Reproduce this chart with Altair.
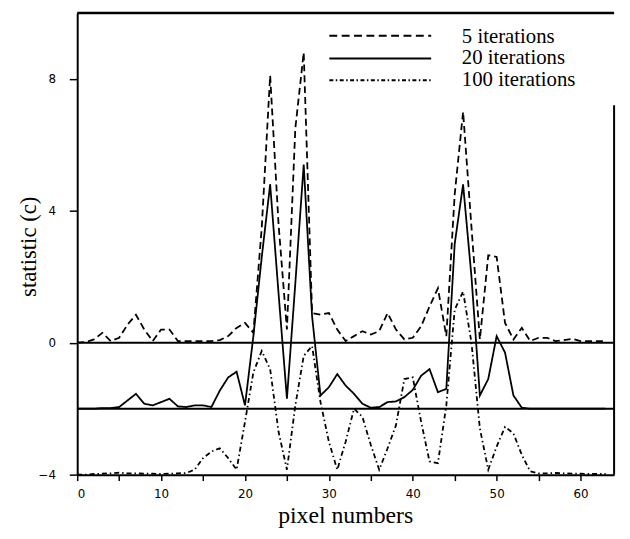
import altair as alt
import pandas as pd

# ---- data ----
pixels = list(range(64))

iter5 = [0.0, 0.02, 0.1, 0.3, 0.05, 0.15, 0.55, 0.85, 0.4, 0.05,
         0.4, 0.4, 0.05, 0.05, 0.05, 0.05, 0.05, 0.08, 0.2, 0.45,
         0.6, 0.3, 3.5, 8.1, 3.6, 0.4, 6.5, 8.8, 0.9, 0.85,
         0.9, 0.4, 0.05, 0.2, 0.35, 0.25, 0.35, 0.9, 0.4, 0.1,
         0.15, 0.5, 1.1, 1.65, 0.2, 4.5, 7.0, 3.5, 0.1, 2.65,
         2.6, 0.6, 0.1, 0.45, 0.05, 0.15, 0.15, 0.05, 0.08, 0.12,
         0.05, 0.05, 0.05, 0.05]

iter20 = [-2.0, -2.0, -2.0, -1.98, -1.98, -1.95, -1.75, -1.55, -1.85, -1.9,
          -1.8, -1.7, -1.93, -1.95, -1.9, -1.9, -1.95, -1.45, -1.05, -0.88,
          -1.9, 0.2, 2.6, 4.8, 1.5, -1.7, 1.8, 5.4, 0.8, -1.6,
          -1.35, -0.95, -1.3, -1.55, -1.85, -1.97, -1.95, -1.8, -1.78, -1.65,
          -1.43, -1.0, -0.8, -1.5, -1.4, 3.0, 4.8, 2.0, -1.6, -1.1,
          0.2, -0.3, -1.6, -1.97, -2.0, -2.0, -2.0, -2.0, -2.0, -2.0,
          -2.0, -2.0, -2.0, -2.0]

iter100 = [-4.0, -4.0, -3.98, -3.97, -3.96, -3.94, -3.96, -3.96, -3.97, -3.97,
           -3.98, -3.97, -3.96, -3.95, -3.85, -3.5, -3.3, -3.2, -3.5, -3.85,
           -2.4, -0.9, -0.25, -0.8, -2.7, -3.85, -1.9, -0.4, -0.1, -1.8,
           -3.0, -3.85, -3.0, -2.0, -2.25, -3.1, -3.85, -3.2, -2.5, -1.1,
           -1.05, -2.4, -3.6, -3.65, -1.9, 1.0, 1.55, 0.0, -2.6, -3.85,
           -3.15, -2.55, -2.75, -3.4, -3.9, -3.96, -3.96, -3.95, -3.96, -3.97,
           -3.97, -3.98, -3.98, -3.98]

series_names = ["5 iterations", "20 iterations", "100 iterations"]
baselines = [0, -2]
x_ticks = list(range(0, 61, 5))
y_ticks = [-4, 0, 4, 8]
x_domain = [0, 64]
y_domain = [-4, 10]
frame_right = [{"x": 64, "y": -4, "y2": 7.2}]

# ---- styling ----
dashes = [[7, 4], [1, 0], [5, 3, 1.5, 3]]
legend_dashes = [[8, 4.5], [1, 0], [4, 2.5, 1.5, 2.5]]
legend_rows = [23, 46, 68]
legend_text_rows = [30, 52, 74]
serif = "Liberation Serif"
sans = "DejaVu Sans"

df = pd.DataFrame({
    "pixel": pixels * 3,
    "value": iter5 + iter20 + iter100,
    "series": [series_names[0]] * 64 + [series_names[1]] * 64 + [series_names[2]] * 64,
})

x_scale = alt.Scale(domain=x_domain, nice=False, zero=False)
y_scale = alt.Scale(domain=y_domain, nice=False, zero=False)

x_axis = alt.Axis(
    values=x_ticks,
    labelExpr="datum.value % 10 == 0 ? datum.label : ''",
    grid=False, domainColor="black", domainWidth=2,
    ticks=True, tickColor="black", tickWidth=1.5, tickSize=6,
    labelFont=sans, labelFontSize=12, labelColor="black", labelPadding=8,
    title="pixel numbers", titleFont=serif, titleFontSize=24,
    titleFontWeight="normal", titleColor="black",
    titleX=271, titleY=48, titleAlign="center", titleBaseline="alphabetic",
)
y_axis = alt.Axis(
    values=y_ticks, grid=False, domainColor="black", domainWidth=2,
    ticks=True, tickColor="black", tickWidth=1.5, tickSize=8,
    labelFont=sans, labelFontSize=12, labelColor="black", labelPadding=14,
    title="statistic (c)", titleFont=serif, titleFontSize=23,
    titleFontWeight="normal", titleColor="black",
    titleX=-49, titleY=236, titleAngle=-90, titleAlign="center",
    titleBaseline="middle",
)

lines = alt.Chart(df).mark_line(color="black", strokeWidth=1.8).encode(
    x=alt.X("pixel:Q", scale=x_scale, axis=x_axis),
    y=alt.Y("value:Q", scale=y_scale, axis=y_axis),
    strokeDash=alt.StrokeDash("series:N",
                              scale=alt.Scale(domain=series_names, range=dashes),
                              legend=None),
)

base_rules = alt.Chart(pd.DataFrame({"y": baselines})).mark_rule(
    color="black", strokeWidth=2
).encode(y=alt.Y("y:Q", scale=y_scale))

top_rule = alt.Chart(pd.DataFrame({"y": [y_domain[1]]})).mark_rule(
    color="black", strokeWidth=2.5
).encode(y=alt.Y("y:Q", scale=y_scale))

right_rule = alt.Chart(pd.DataFrame(frame_right)).mark_rule(
    color="black", strokeWidth=2
).encode(
    x=alt.X("x:Q", scale=x_scale),
    y=alt.Y("y:Q", scale=y_scale),
    y2="y2:Q",
)

legend_layers = []
for name, dsh, ry, ty in zip(series_names, legend_dashes, legend_rows, legend_text_rows):
    legend_layers.append(
        alt.Chart(pd.DataFrame({"series": [name]})).mark_rule(
            color="black", strokeWidth=2, strokeDash=dsh
        ).encode(x=alt.value(255), x2=alt.value(358), y=alt.value(ry))
    )
    legend_layers.append(
        alt.Chart(pd.DataFrame({"series": [name]})).mark_text(
            font=serif, fontSize=21, align="left", baseline="alphabetic", color="black"
        ).encode(x=alt.value(389), y=alt.value(ty), text="series:N")
    )

chart = alt.layer(lines, base_rules, top_rule, right_rule, *legend_layers).properties(
    width=543, height=467,
    autosize=alt.AutoSizeParams(type="none"),
    padding={"left": 70, "top": 2, "right": 8, "bottom": 52},
).configure_view(stroke=None)

chart.save("out.html", embed_options={"renderer": "svg", "actions": False})
